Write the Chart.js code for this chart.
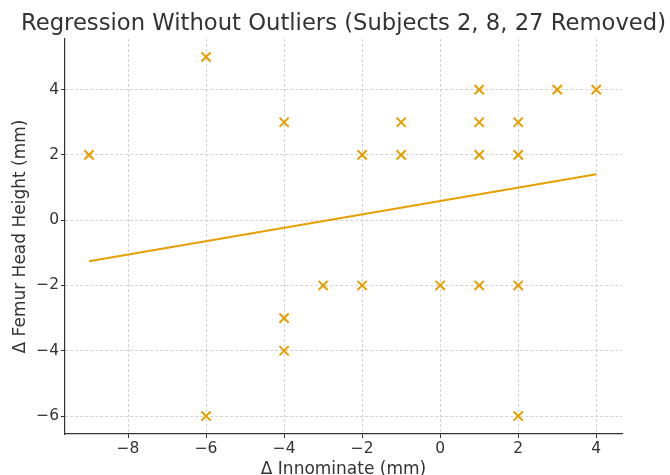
<!DOCTYPE html>
<html>
<head>
<meta charset="utf-8">
<script src="https://cdn.jsdelivr.net/npm/chart.js@4"></script>
<style>
  html, body { margin: 0; padding: 0; background: #fff; }
  canvas { display: block; }
</style>
</head>
<body>
<canvas id="chart" width="670" height="475"></canvas>
<script>
// datos
const deltaInnominate = [-9, -6, -6, -4, -4, -4, -3, -2, -2, -1, -1, 0, 1, 1, 1, 1, 2, 2, 2, 2, 3, 4];
const deltaFemurHead = [2, 5, -6, 3, -3, -4, -2, 2, -2, 3, 2, -2, 4, 3, 2, -2, 3, 2, -2, -6, 4, 4];

// recta de regresion (extremos)
const fitX = [-9, 4];
const fitY = [-1.26, 1.41];

const xTicks = [-8, -6, -4, -2, 0, 2, 4];
const yTicks = [-6, -4, -2, 0, 2, 4];

const titulo = 'Regression Without Outliers (Subjects 2, 8, 27 Removed)';
const naranja = '#E69F00';
const texto = '#333333';

const puntos = deltaInnominate.map((x, i) => ({ x: x, y: deltaFemurHead[i] }));
const recta = fitX.map((x, i) => ({ x: x, y: fitY[i] }));

function menos(v) {
  return String(v).replace('-', '\u2212');
}

// titulo centrado sobre el area del grafico, como en el original
const tituloPlugin = {
  id: 'tituloCentrado',
  afterDraw(chart) {
    const c = chart.ctx;
    const area = chart.chartArea;
    c.save();
    c.fillStyle = texto;
    c.font = '22.7px "DejaVu Sans"';
    c.textAlign = 'center';
    c.textBaseline = 'alphabetic';
    c.fillText(titulo, (area.left + area.right) / 2, 30);
    c.restore();
  }
};

const ctx = document.getElementById('chart').getContext('2d');

const myChart = new Chart(ctx, {
  type: 'scatter',
  data: {
    datasets: [
      {
        type: 'line',
        data: recta,
        borderColor: naranja,
        borderWidth: 2,
        pointRadius: 0,
        fill: false,
        tension: 0
      },
      {
        data: puntos,
        pointStyle: 'crossRot',
        pointRadius: 6.5,
        borderColor: naranja,
        backgroundColor: naranja,
        pointBorderWidth: 2
      }
    ]
  },
  options: {
    responsive: false,
    animation: false,
    layout: {
      padding: { left: 0, right: 48, top: 39, bottom: -5 }
    },
    plugins: {
      legend: { display: false },
      tooltip: { enabled: false },
      title: { display: false }
    },
    scales: {
      x: {
        type: 'linear',
        min: -9.615,
        max: 4.66,
        afterFit: function (scale) { scale.height = 46; },
        afterBuildTicks: function (scale) {
          scale.ticks = xTicks.map(v => ({ value: v }));
        },
        grid: {
          color: '#c8c8c8',
          lineWidth: 0.8,
          tickColor: texto,
          tickLength: 4,
          tickWidth: 1,
          tickBorderDash: []
        },
        border: { display: true, color: texto, width: 1.2, dash: [3, 2] },
        ticks: {
          color: texto,
          padding: 2,
          font: { family: 'DejaVu Sans', size: 15.5 },
          callback: v => menos(v)
        },
        title: {
          display: true,
          text: 'Δ Innominate (mm)',
          color: texto,
          font: { family: 'DejaVu Sans', size: 17 },
          padding: { top: 0, bottom: 0 }
        }
      },
      y: {
        type: 'linear',
        min: -6.55,
        max: 5.55,
        afterFit: function (scale) { scale.width = 65; },
        afterBuildTicks: function (scale) {
          scale.ticks = yTicks.map(v => ({ value: v }));
        },
        grid: {
          color: '#c8c8c8',
          lineWidth: 0.8,
          tickColor: texto,
          tickLength: 4,
          tickWidth: 1,
          tickBorderDash: []
        },
        border: { display: true, color: texto, width: 1.2, dash: [3, 2] },
        ticks: {
          color: texto,
          padding: 2,
          font: { family: 'DejaVu Sans', size: 15.5 },
          callback: v => menos(v)
        },
        title: {
          display: true,
          text: 'Δ Femur Head Height (mm)',
          color: texto,
          font: { family: 'DejaVu Sans', size: 17 },
          padding: { top: 10, bottom: 0 }
        }
      }
    }
  },
  plugins: [tituloPlugin]
});
</script>
</body>
</html>
